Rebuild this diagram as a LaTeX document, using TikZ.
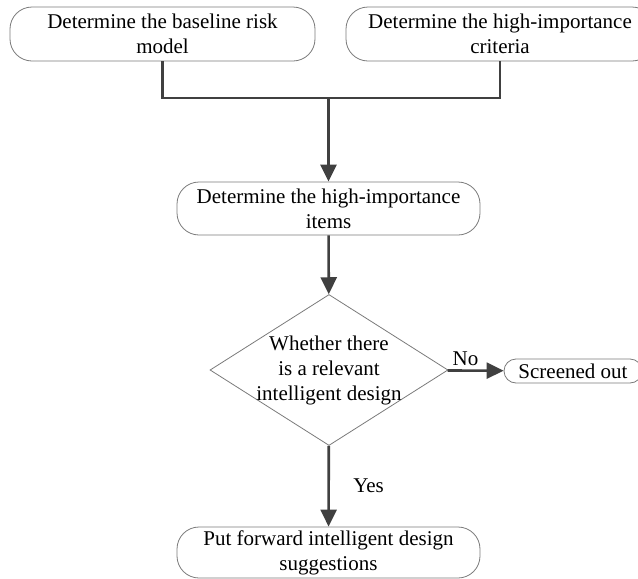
\documentclass[tikz,border=0pt]{standalone}
\usepackage{fontspec}
\setmainfont{Liberation Serif}
\usetikzlibrary{shapes.geometric,arrows.meta}
\definecolor{linecol}{HTML}{404040}
\definecolor{boxcol}{HTML}{7A7A7A}

\begin{document}
\begin{tikzpicture}[x=1pt,y=-1pt,
	stepbox/.style={draw=boxcol,line width=0.8pt,rounded corners=22pt,align=center,
		font=\fontsize{21}{25}\selectfont,inner sep=0pt},
	decision/.style={draw=boxcol,line width=0.8pt,diamond,inner sep=0pt},
	flowline/.style={draw=linecol,line width=2.6pt},
	flowarrow/.style={flowline,-{Triangle[length=17pt,width=16pt]}},
	tag/.style={font=\fontsize{21}{25}\selectfont}]
\useasboundingbox (0,0) rectangle (638,579);
\clip (0,0) rectangle (638,579);
% boxes
\node[stepbox,minimum width=305,minimum height=54] (base) at (162.5,34) {Determine the baseline risk\\model};
\node[stepbox,minimum width=308,minimum height=54] (crit) at (500,34) {Determine the high-importance\\criteria};
\node[stepbox,minimum width=303,minimum height=53] (items) at (328.5,208.5) {Determine the high-importance\\items};
\node[decision,minimum width=238,minimum height=151,
	label={[tag,align=center]center:Whether there\\is a relevant\\intelligent design}] (check) at (329,370) {};
\node[stepbox,rounded corners=12pt,minimum width=138,minimum height=24] (out) at (573,371) {Screened out};
\node[stepbox,minimum width=303,minimum height=51] (suggest) at (328.5,552.5) {Put forward intelligent design\\suggestions};
% connectors
\coordinate (join) at (328.5,98);
\draw[flowline] (base.south) |- (join) -| (crit.south);
\draw[flowarrow] (join) -- (items.north);
\draw[flowarrow] (items) -- (check);
\draw[flowarrow] (check) -- node[tag,pos=0.32,above]{No} (out);
\draw[flowarrow] (check) -- node[tag,pos=0.5,right=20pt]{Yes} (suggest);
\end{tikzpicture}
\end{document}
